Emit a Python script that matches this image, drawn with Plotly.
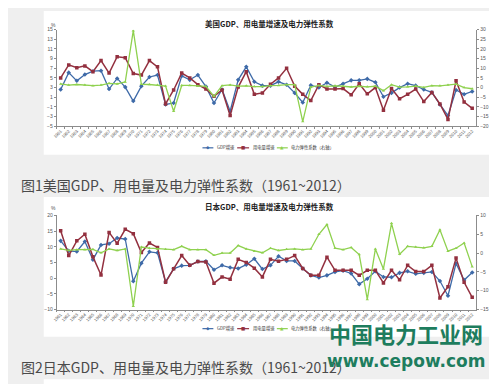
import plotly.graph_objects as go

W, H = 497, 384
years = [str(y) for y in range(1961, 2013)]

# ---- US data ----
us_gdp = [2.6, 6.1, 4.4, 5.7, 6.4, 6.5, 2.7, 4.9, 3.1, 0.2,
          3.3, 5.2, 5.6, -0.5, -0.2, 5.4, 4.6, 5.6, 3.2, -0.2,
          2.6, -1.9, 4.6, 7.3, 4.2, 3.4, 3.4, 4.2, 3.6, 1.9,
          -0.1, 3.5, 3.0, 4.0, 3.1, 3.8, 4.5, 4.5, 4.8, 4.1,
          1.1, 1.9, 3.0, 3.8, 3.4, 2.6, 2.0, -0.5, -2.8, 2.5,
          1.6, 2.2]
us_elec = [5.0, 7.7, 7.1, 7.5, 6.3, 8.6, 6.0, 9.4, 9.2, 5.9,
           5.6, 8.6, 7.3, -0.4, 2.5, 6.0, 5.0, 3.6, 2.7, 1.2,
           2.5, -2.8, 3.1, 6.3, 1.6, 1.9, 3.7, 5.0, 7.0, 3.3,
           1.6, 0.3, 3.6, 2.7, 2.7, 2.8, 1.5, 3.8, 1.7, 3.0,
           -1.7, 2.8, 0.7, 1.6, 2.7, 0.1, 2.0, -0.4, -3.6, 4.4,
           0.0, -1.3]
us_elas = [1.9, 1.3, 1.6, 1.3, 1.0, 1.3, 2.2, 1.9, 2.9, 29.5,
           1.7, 1.6, 1.3, 0.8, -12.3, 1.1, 1.1, 0.7, 0.6, -4.6,
           1.0, 1.4, 0.8, 0.9, 0.5, 0.5, 1.0, 1.1, 1.5, 1.5,
           -17.6, 0.2, 1.1, 0.6, 0.9, 0.7, 0.3, 0.7, 0.4, 0.7,
           -1.6, 1.5, 0.2, 0.4, 0.8, 0.1, 1.0, 0.9, 1.3, 1.8,
           0.0, -0.6]

# ---- Japan data ----
jp_gdp = [11.9, 8.7, 8.5, 11.7, 5.9, 10.6, 11.0, 12.8, 12.5, -1.0,
          4.8, 8.4, 8.1, -1.2, 3.0, 4.0, 4.1, 5.3, 5.4, 2.7,
          4.1, 3.4, 3.1, 4.3, 6.2, 2.9, 4.1, 7.0, 5.5, 5.5,
          3.1, 0.9, 0.2, 0.9, 2.0, 2.4, 1.5, -1.9, -0.2, 2.2,
          0.4, 0.3, 1.7, 2.2, 1.4, 1.7, 2.0, -0.9, -5.6, 4.7,
          -0.6, 1.8]
jp_elec = [15.1, 7.2, 11.9, 14.0, 6.8, 1.0, 14.6, 11.1, 15.6, 14.2,
           8.2, 11.2, 9.8, -1.3, 3.0, 7.2, 4.1, 5.3, 5.2, -1.6,
           0.4, -0.3, 6.0, 5.0, 3.2, 0.4, 6.0, 5.4, 6.0, 7.2,
           3.1, 0.9, 0.9, 6.7, 2.5, 2.5, 2.5, 0.9, 2.5, 2.5,
           -1.5, 2.5, -0.5, 4.1, 2.1, 2.1, 4.1, -6.3, -2.7, 6.4,
           -1.3, -6.1]
jp_elas = [1.1, 0.7, 0.9, 0.9, 1.0, 0.1, 1.1, 0.7, 1.1, -14.1,
           1.6, 1.3, 1.1, 1.0, 0.9, 1.8, 0.9, 0.9, 0.9, -0.6,
           0.0, 0.0, 2.0, 1.1, 0.5, 0.1, 1.3, 0.7, 1.0, 1.1,
           0.9, 1.1, 5.0, 7.6, 1.3, 0.9, 1.5, -0.4, -12.3, 1.1,
           -4.2, 7.9, -0.3, 1.8, 1.6, 1.4, 1.8, 6.2, 0.5, 1.3,
           2.7, -3.6]

names = ["GDP增速", "用电量增速", "电力弹性系数（右轴）"]
titles = ["美国GDP、用电量增速及电力弹性系数", "日本GDP、用电量增速及电力弹性系数"]
captions = ["图1美国GDP、用电量及电力弹性系数（1961~2012）",
            "图2日本GDP、用电量及电力弹性系数（1961~2012）"]

BLUE, RED, GREEN = "#3e6aa8", "#93303f", "#8fd14f"
CJK = "Noto Sans CJK SC"
NUM = "Liberation Sans, Arial, sans-serif"


def px(x):
    return x / W


def py(y):
    return 1 - y / H


fig = go.Figure()


def add_series(xa, ya_left, ya_right, gdp, elec, elas):
    fig.add_trace(go.Scatter(x=years, y=gdp, mode="lines+markers", name=names[0],
                             xaxis=xa, yaxis=ya_left, showlegend=False,
                             line=dict(color=BLUE, width=1.3),
                             marker=dict(symbol="diamond", size=3.5, color=BLUE)))
    fig.add_trace(go.Scatter(x=years, y=elec, mode="lines+markers", name=names[1],
                             xaxis=xa, yaxis=ya_left, showlegend=False,
                             line=dict(color=RED, width=1.5),
                             marker=dict(symbol="square", size=3.5, color=RED)))
    fig.add_trace(go.Scatter(x=years, y=elas, mode="lines+markers", name=names[2],
                             xaxis=xa, yaxis=ya_right, showlegend=False,
                             line=dict(color=GREEN, width=1.3),
                             marker=dict(symbol="triangle-up", size=3, color=GREEN)))


add_series("x", "y", "y2", us_gdp, us_elec, us_elas)
add_series("x2", "y3", "y4", jp_gdp, jp_elec, jp_elas)

xl, xr = 45, 468
c1_top, c1_bot = 19, 117
c2_top, c2_bot = 207.7, 303.3

axis_common = dict(showgrid=False, zeroline=False, showline=True, linecolor="#8c8c8c",
                   linewidth=0.8, ticks="outside", ticklen=2, tickcolor="#8c8c8c",
                   tickfont=dict(family=NUM, size=5, color="#555555"), fixedrange=True)

xcommon = dict(axis_common, type="category", range=[-0.5, 51.5], tickangle=-45,
               tickson="boundaries", tickfont=dict(family=NUM, size=4.3, color="#555555"),
               domain=[px(xl), px(xr)])

fig.update_layout(
    width=W, height=H, autosize=False,
    margin=dict(l=0, r=0, t=0, b=0),
    paper_bgcolor="#efefef", plot_bgcolor="rgba(0,0,0,0)",
    showlegend=False,
    xaxis=dict(xcommon, anchor="y"),
    yaxis=dict(axis_common, domain=[py(c1_bot), py(c1_top)], range=[-5, 15],
               tick0=-5, dtick=2, anchor="x"),
    yaxis2=dict(axis_common, overlaying="y", side="right", range=[-20, 30],
                tick0=-20, dtick=5, anchor="x"),
    xaxis2=dict(xcommon, anchor="y3"),
    yaxis3=dict(axis_common, domain=[py(c2_bot), py(c2_top)], range=[-10, 20],
                tick0=-10, dtick=5, anchor="x2"),
    yaxis4=dict(axis_common, overlaying="y3", side="right", range=[-15, 10],
                tick0=-15, dtick=5, anchor="x2"),
)

# white panels
for (y0, y1) in [(0, 146), (189, 331), (374, 384)]:
    fig.add_shape(type="rect", xref="paper", yref="paper", layer="below",
                  x0=px(32), x1=px(482), y0=py(y1), y1=py(y0),
                  fillcolor="white", line=dict(width=0))

ann = []
# chart titles and % labels
for title, ty, pcy in [(titles[0], 12.5, 14), (titles[1], 199, 200.5)]:
    ann.append(dict(text="<b>" + title + "</b>", x=px(260), y=py(ty), xref="paper", yref="paper",
                    showarrow=False, xanchor="center", yanchor="middle",
                    font=dict(family=CJK, size=7.5, color="#222222")))
    ann.append(dict(text="%", x=px(42), y=py(pcy), xref="paper", yref="paper",
                    showarrow=False, xanchor="center", yanchor="middle",
                    font=dict(family=NUM, size=5, color="#555555")))

# legends (drawn manually)
leg_items = [(BLUE, "◆", 192, 203, names[0]), (RED, "■", 227, 239, names[1]),
             (GREEN, "▲", 267, 278, names[2])]
for ly in [139, 322.7]:
    for col, sym, x0, x1, txt in leg_items:
        fig.add_shape(type="line", xref="paper", yref="paper",
                      x0=px(x0), x1=px(x1), y0=py(ly), y1=py(ly),
                      line=dict(color=col, width=1.2))
        ann.append(dict(text=sym, x=px((x0 + x1) / 2), y=py(ly), xref="paper", yref="paper",
                        showarrow=False, xanchor="center", yanchor="middle",
                        font=dict(family="DejaVu Sans", size=4.5, color=col)))
        ann.append(dict(text=txt, x=px(x1 + 1.5), y=py(ly), xref="paper", yref="paper",
                        showarrow=False, xanchor="left", yanchor="middle",
                        font=dict(family=CJK, size=4.3, color="#333333")))

# captions
for cap, cy in [(captions[0], 177), (captions[1], 362)]:
    ann.append(dict(text=cap, x=px(7), y=py(cy), xref="paper", yref="paper",
                    showarrow=False, xanchor="left", yanchor="middle",
                    font=dict(family=CJK, size=14, color="#4a4a4a")))

# watermark
ann.append(dict(text="<b>中国电力工业网</b>", x=px(397), y=py(327), xref="paper", yref="paper",
                showarrow=False, xanchor="center", yanchor="middle",
                font=dict(family=CJK, size=22, color="#1e7d5e")))
ann.append(dict(text="<b>www.cepow.com</b>", x=px(398), y=py(355.5), xref="paper", yref="paper",
                showarrow=False, xanchor="center", yanchor="middle",
                font=dict(family="DejaVu Sans", size=17, color="#1e7d5e")))

fig.update_layout(annotations=ann)
fig.write_html("out.html")
